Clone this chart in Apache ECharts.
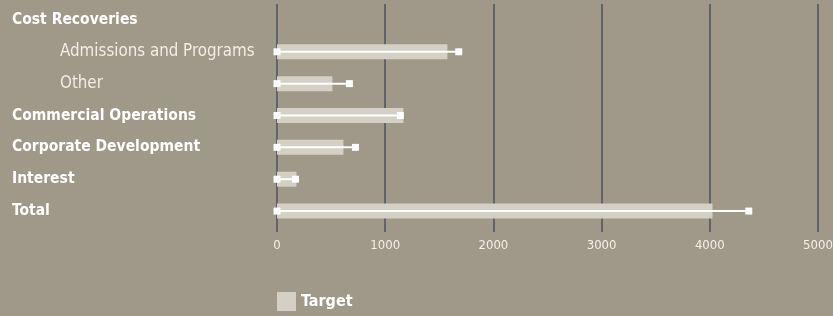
<!DOCTYPE html>
<html>
<head>
<meta charset="utf-8">
<script src="https://cdn.jsdelivr.net/npm/echarts@6/dist/echarts.min.js"></script>
<style>
  html, body { margin: 0; padding: 0; background: #a09888; }
  #main { width: 833px; height: 316px; }
</style>
</head>
<body>
<div id="main"></div>
<script>
const categories = ['Cost Recoveries', 'Admissions and Programs', 'Other', 'Commercial Operations', 'Corporate Development', 'Interest', 'Total'];
const subRows = ['Admissions and Programs', 'Other'];
const targetValues = ['-', 1575, 512, 1168, 614, 180, 4025];
const actualValues = ['-', 1680, 669, 1140, 725, 171, 4360];
const xTicks = [0, 1000, 2000, 3000, 4000, 5000];

const FONT = '"DejaVu Sans Condensed", "Liberation Sans Narrow", sans-serif';
const dom = document.getElementById('main');
const myChart = echarts.init(dom);

function renderActual(params, api) {
  const v = api.value(1);
  if (isNaN(v)) return;
  const start = api.coord([0, api.value(0)]);
  const end = api.coord([v, api.value(0)]);
  const s = 7;
  return {
    type: 'group',
    children: [
      { type: 'line', shape: { x1: start[0], y1: start[1], x2: end[0], y2: end[1] }, style: { stroke: '#ffffff', lineWidth: 2 } },
      { type: 'rect', shape: { x: start[0] - s / 2, y: start[1] - s / 2, width: s, height: s }, style: { fill: '#ffffff' } },
      { type: 'rect', shape: { x: end[0] - s / 2, y: end[1] - s / 2, width: s, height: s }, style: { fill: '#ffffff' } }
    ]
  };
}

myChart.setOption({
  backgroundColor: '#a09888',
  animation: false,
  textStyle: { fontFamily: FONT },
  legend: {
    data: [{ name: 'Target', icon: 'rect' }],
    left: 277,
    top: 292,
    padding: 0,
    itemWidth: 19,
    itemHeight: 19,
    itemGap: 8,
    textStyle: { color: '#ffffff', fontSize: 16, fontWeight: 'bold', fontFamily: FONT }
  },
  grid: { left: 277, right: 15, top: 4, height: 223, outerBoundsMode: 'none' },
  xAxis: {
    type: 'value',
    min: xTicks[0],
    max: xTicks[xTicks.length - 1],
    interval: 1000,
    axisLine: { show: false },
    axisTick: { show: true, length: 5, lineStyle: { color: '#5f6468', width: 2 } },
    splitLine: { show: true, lineStyle: { color: '#5f6468', width: 2 } },
    axisLabel: { color: '#f4f0e8', fontSize: 13, fontFamily: FONT, margin: 12, formatter: (v) => String(v) }
  },
  yAxis: {
    type: 'category',
    inverse: true,
    data: categories,
    axisLine: { show: false },
    axisTick: { show: false },
    axisLabel: {
      align: 'left',
      margin: 265,
      formatter: (v) => subRows.includes(v) ? '{sub|' + v + '}' : '{main|' + v + '}',
      rich: {
        main: { color: '#ffffff', fontSize: 15.5, fontWeight: 'bold', fontFamily: FONT },
        sub: { color: '#f2eee6', fontSize: 16.8, fontFamily: FONT, padding: [0, 0, 0, 48] }
      }
    }
  },
  series: [
    {
      name: 'Target',
      type: 'bar',
      data: targetValues,
      barWidth: 15,
      itemStyle: { color: '#d4d0c6' }
    },
    {
      name: 'Actual',
      type: 'custom',
      renderItem: renderActual,
      encode: { x: 1, y: 0 },
      data: categories.map((c, i) => [i, actualValues[i]]),
      z: 5
    }
  ]
});
</script>
</body>
</html>
